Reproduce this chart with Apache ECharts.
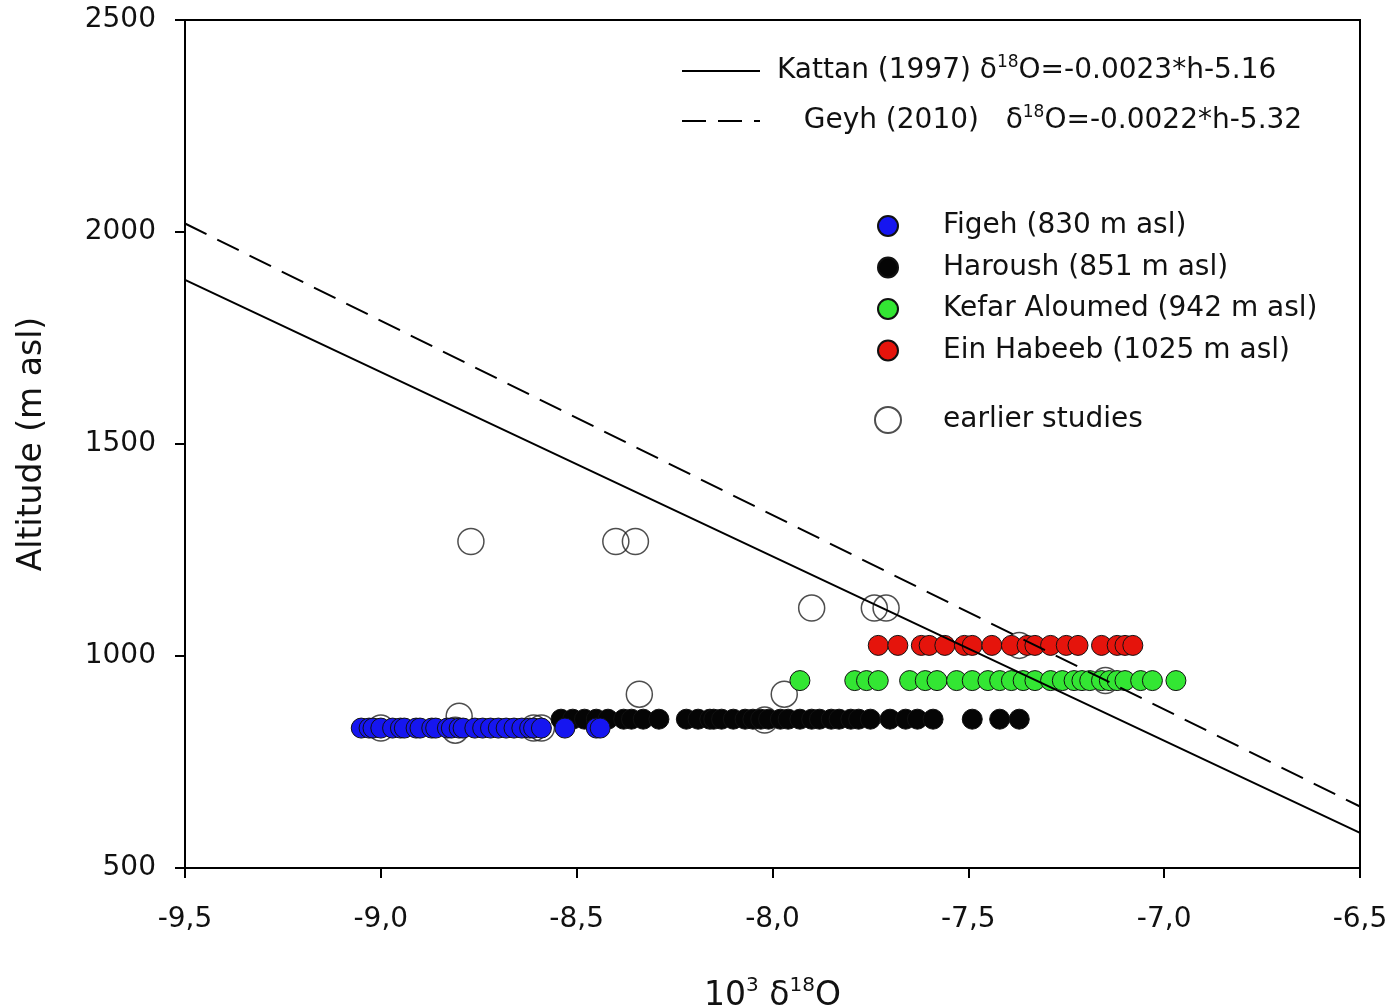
<!DOCTYPE html>
<html>
<head>
<meta charset="utf-8">
<script src="https://cdn.jsdelivr.net/npm/echarts@6/dist/echarts.min.js"></script>
<style>
  html, body { margin: 0; padding: 0; background: #fff; }
  #chart { width: 1395px; height: 1008px; }
</style>
</head>
<body>
<div id="chart"></div>
<script>
// sites: altitude (m asl) and measured 10^3 d18O values
const figehAlt = 830;
const figehX = [-9.05, -9.03, -9.02, -9.00, -8.97, -8.95, -8.94, -8.91, -8.90, -8.87, -8.86,
  -8.83, -8.82, -8.80, -8.79, -8.76, -8.74, -8.72, -8.70, -8.68, -8.66, -8.64, -8.62,
  -8.61, -8.59, -8.53, -8.45, -8.44];

const harAlt = 851;
const harX = [-8.54, -8.51, -8.48, -8.45, -8.42, -8.38, -8.36, -8.33, -8.29, -8.22, -8.19,
  -8.16, -8.15, -8.13, -8.10, -8.07, -8.05, -8.03, -8.01, -7.98, -7.96, -7.93, -7.90,
  -7.88, -7.85, -7.83, -7.80, -7.78, -7.75, -7.70, -7.66, -7.63, -7.59, -7.49, -7.42, -7.37];

const kefAlt = 942;
const kefX = [-7.93, -7.79, -7.76, -7.73, -7.65, -7.61, -7.58, -7.53, -7.49, -7.45, -7.42,
  -7.39, -7.36, -7.33, -7.29, -7.26, -7.23, -7.21, -7.19, -7.16, -7.14, -7.12, -7.10,
  -7.06, -7.03, -6.97];

const einAlt = 1025;
const einX = [-7.73, -7.68, -7.62, -7.60, -7.56, -7.51, -7.49, -7.44, -7.39, -7.35, -7.33,
  -7.29, -7.25, -7.22, -7.16, -7.12, -7.10, -7.08];

const earlier = [[-8.77, 1270], [-8.40, 1270], [-8.35, 1270], [-7.90, 1113], [-7.74, 1113],
  [-7.71, 1113], [-8.34, 910], [-7.97, 910], [-8.02, 849], [-9.00, 830], [-8.80, 858],
  [-8.81, 825], [-8.61, 830], [-8.59, 830], [-7.37, 1025], [-7.15, 942]];

// regression lines, end points read at the frame edges
const kattanLine = [[-9.5, 1887], [-6.5, 583]];
const geyhLine = [[-9.5, 2020], [-6.5, 645]];

const xTicks = { min: -9.5, max: -6.5, step: 0.5 };
const yTicks = { min: 500, max: 2500, step: 500 };

const font = 'DejaVu Sans, sans-serif';
const rich = {
  t: { fontSize: 28, fontFamily: font, color: '#111', lineHeight: 34 },
  s: { fontSize: 17, fontFamily: font, color: '#111', lineHeight: 34, verticalAlign: 'top' }
};

function pts(xs, alt) {
  return xs.map(function (x) { return [x, alt]; });
}

function dotSeries(name, xs, alt, color) {
  return {
    name: name,
    type: 'scatter',
    data: pts(xs, alt),
    symbol: 'circle',
    symbolSize: 20,
    itemStyle: { color: color, borderColor: '#111', borderWidth: 1, opacity: 1 },
    z: 3
  };
}

const chart = echarts.init(document.getElementById('chart'));
chart.setOption({
  backgroundColor: '#fff',
  animation: false,
  grid: {
    left: 185, right: 35, top: 20, bottom: 140,
    outerBoundsMode: 'none',
    show: true, borderColor: '#000', borderWidth: 2
  },
  xAxis: {
    type: 'value',
    min: xTicks.min, max: xTicks.max, interval: xTicks.step,
    name: '{t|10}{s|3}{t| δ}{s|18}{t|O}',
    nameLocation: 'middle',
    nameGap: 108,
    nameTextStyle: { rich: {
      t: { fontSize: 33, fontFamily: font, color: '#111', lineHeight: 40 },
      s: { fontSize: 20, fontFamily: font, color: '#111', lineHeight: 40, verticalAlign: 'top' }
    } },
    axisLine: { lineStyle: { color: '#000', width: 2 } },
    axisTick: { length: 10, lineStyle: { color: '#000', width: 2 } },
    splitLine: { show: false },
    axisLabel: {
      fontSize: 28, fontFamily: font, color: '#111', margin: 38,
      formatter: function (v) { return v.toFixed(1).replace('.', ','); }
    }
  },
  yAxis: {
    type: 'value',
    min: yTicks.min, max: yTicks.max, interval: yTicks.step,
    name: 'Altitude (m asl)',
    nameLocation: 'middle',
    nameRotate: 90,
    nameGap: 136,
    nameTextStyle: { fontSize: 33, fontFamily: font, color: '#111' },
    axisLine: { lineStyle: { color: '#000', width: 2 } },
    axisTick: { length: 10, lineStyle: { color: '#000', width: 2 } },
    splitLine: { show: false },
    axisLabel: {
      fontSize: 28, fontFamily: font, color: '#111', margin: 29,
      formatter: function (v) { return String(v); }
    }
  },
  legend: [
    {
      data: ['Kattan', 'Geyh'],
      orient: 'vertical',
      left: 676, top: 49,
      itemWidth: 78, itemHeight: 14, itemGap: 19,
      itemStyle: { opacity: 0 },
      textStyle: { rich: rich, padding: [0, 0, 0, 12] },
      formatter: function (n) {
        if (n === 'Kattan') return '{t|Kattan (1997) δ}{s|18}{t|O=-0.0023*h-5.16}';
        return '{t|   Geyh (2010)   δ}{s|18}{t|O=-0.0022*h-5.32}';
      }
    },
    {
      data: ['Figeh (830 m asl)', 'Haroush (851 m asl)', 'Kefar Aloumed (942 m asl)', 'Ein Habeeb (1025 m asl)'],
      orient: 'vertical',
      left: 872, top: 204,
      itemWidth: 20, itemHeight: 20, itemGap: 7.5,
      textStyle: { fontSize: 28, fontFamily: font, color: '#111', padding: [0, 0, 0, 40], lineHeight: 34 }
    },
    {
      data: ['earlier studies'],
      orient: 'vertical',
      left: 869, top: 398,
      itemWidth: 26, itemHeight: 26,
      textStyle: { fontSize: 28, fontFamily: font, color: '#111', padding: [0, 0, 0, 37], lineHeight: 34 }
    }
  ],
  series: [
    {
      name: 'earlier studies',
      type: 'scatter',
      data: earlier,
      symbol: 'circle',
      symbolSize: 26,
      itemStyle: { color: 'rgba(255,255,255,0)', borderColor: '#222', borderWidth: 1.5 },
      z: 2
    },
    dotSeries('Haroush (851 m asl)', harX, harAlt, '#050505'),
    dotSeries('Figeh (830 m asl)', figehX, figehAlt, '#1616f0'),
    dotSeries('Kefar Aloumed (942 m asl)', kefX, kefAlt, '#33e633'),
    dotSeries('Ein Habeeb (1025 m asl)', einX, einAlt, '#e5140c'),
    {
      name: 'Kattan',
      type: 'line',
      data: kattanLine,
      symbol: 'none',
      itemStyle: { color: '#000' },
      lineStyle: { color: '#000', width: 2 },
      z: 5
    },
    {
      name: 'Geyh',
      type: 'line',
      data: geyhLine,
      symbol: 'none',
      itemStyle: { color: '#000' },
      lineStyle: { color: '#000', width: 2, type: [24, 12] },
      z: 5
    }
  ]
});
</script>
</body>
</html>
